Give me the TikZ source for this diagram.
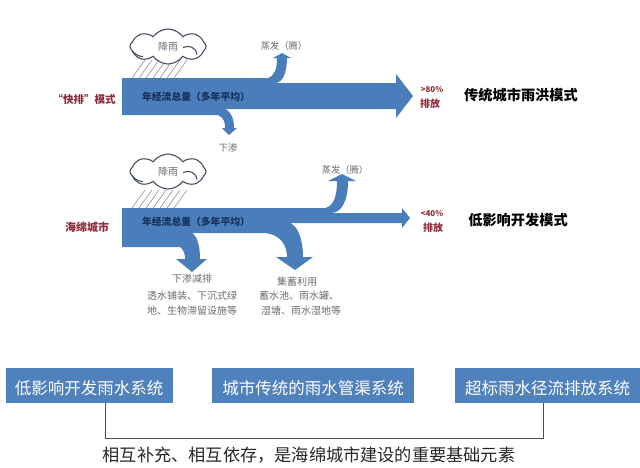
\documentclass[tikz,border=0pt]{standalone}
\usepackage{fontspec}
\setmainfont{Noto Sans CJK SC}
\usetikzlibrary{shapes.symbols}
\definecolor{flowblue}{HTML}{4A7EBB}
\definecolor{boxblue}{HTML}{4F81BD}
\definecolor{darkred}{HTML}{8E2A3A}
\definecolor{cloudgrey}{HTML}{46505C}
\definecolor{softgrey}{HTML}{7F7F7F}
\definecolor{navytxt}{HTML}{16305A}
\tikzset{
  flow/.style={fill=flowblue},
  rainline/.style={draw=softgrey,line width=0.5pt},
  cloudline/.style={draw=cloudgrey,line width=1.1pt},
  txt/.style={inner sep=0pt,font=\fontsize{#1}{#1}\selectfont},
  greytxt/.style={txt=#1,text=softgrey!85!black},
  redtxt/.style={txt=#1,text=darkred,font=\fontsize{#1}{#1}\selectfont\bfseries},
  modetxt/.style={txt=14.2,font=\fontsize{14.2}{14.2}\selectfont\bfseries},
  totaltxt/.style={txt=9.8,text=navytxt,font=\fontsize{9.8}{9.8}\selectfont\bfseries},
  raincloud/.style={cloud,cloudline,fill=white,cloud puffs=8,cloud puff arc=110,aspect=2.2,
    inner sep=0pt,minimum width=76pt,minimum height=35pt,greytxt=10},
  sysbox/.style={fill=boxblue,text=white,inner sep=0pt,minimum height=35pt,
    text height=20pt,text depth=2pt,font=\fontsize{16.5}{16.5}\selectfont}
}
\begin{document}
\begin{tikzpicture}[x=1pt,y=-1pt]
\useasboundingbox (0,0) rectangle (640,467);
% rain above both bars
\foreach \y in {78,208}
  \foreach \i in {0,...,6}
    \draw[rainline] (132+\i*7,\y) -- (145+\i*7,\y-18);
% upper flow
\fill[flow] (122,78) -- (268,78) .. controls (274,76) and (277,70) .. (277,58)
  -- (273,58) -- (282,53) -- (291,58) -- (287,58)
  .. controls (287,72) and (283,83) .. (275,83)
  -- (396,83) -- (396,74) -- (413,96) -- (396,118) -- (396,109) -- (225,109)
  .. controls (232,112) and (234,120) .. (234,128)
  -- (237,128) -- (229,135) -- (222,128) -- (225,128)
  .. controls (225,122) and (224,118) .. (218,115) -- (122,115) -- cycle;
% lower flow
\fill[flow] (122,208) -- (325,208) .. controls (333,206) and (337,198) .. (337,181)
  -- (328,181) -- (342,174) -- (356,181) -- (348,181)
  .. controls (348,200) and (342,213) .. (331,213)
  -- (402,213) -- (402,208) -- (410,218) -- (402,228) -- (402,223) -- (290,223)
  .. controls (298,226) and (303,240) .. (303,257)
  -- (313,257) -- (295,270) -- (276,257) -- (287,257)
  .. controls (287,245) and (280,233) .. (262,233) -- (192,233)
  .. controls (197,236) and (200,245) .. (200,259)
  -- (207,259) -- (192,272) -- (176,259) -- (185,259)
  .. controls (185,254) and (184,250) .. (180,247) -- (122,247) -- cycle;
% clouds
\node[raincloud] (cloudA) at (168,46.5) {降雨};
\node[raincloud] (cloudB) at (168,171.5) {降雨};
\foreach \c in {cloudA,cloudB} {
  \draw[cloudline,shift={(\c.center)}] (15,1) .. controls (21,-2) and (28,1) .. (29,8);
  \draw[cloudline,shift={(\c.center)}] (-36,4) .. controls (-33,8) and (-29,10) .. (-25,10);
}
% labels of the upper row
\node[greytxt=9.3] (evapA) at (284,46) {蒸发（腾）};
\node[totaltxt] (totalA) at (196,97) {年经流总量（多年平均）};
\node[redtxt=10.5] (fastA) at (84,99) {“快排”模式};
\node[greytxt=9.5] (seepA) at (228,148) {下渗};
\node[redtxt=8] (shareA) at (432,90) {>80\%};
\node[redtxt=10] (outA) at (430,104) {排放};
\node[modetxt] (modeA) at (521,95) {传统城市雨洪模式};
% labels of the lower row
\node[redtxt=11] (spongeB) at (87,227) {海绵城市};
\node[totaltxt] (totalB) at (196,222) {年经流总量（多年平均）};
\node[greytxt=9.3] (evapB) at (345,170) {蒸发（腾）};
\node[redtxt=8] (shareB) at (432,214) {<40\%};
\node[redtxt=10] (outB) at (433,228) {排放};
\node[modetxt] (modeB) at (518,220) {低影响开发模式};
\node[greytxt=10] (seepB) at (192,279) {下渗减排};
\node[greytxt=10] (seepC) at (192,296) {透水铺装、下沉式绿};
\node[greytxt=10] (seepD) at (192,311) {地、生物滞留设施等};
\node[greytxt=10] (useB) at (297,282) {集蓄利用};
\node[greytxt=10] (useC) at (299,296) {蓄水池、雨水罐、};
\node[greytxt=10] (useD) at (301,311) {湿塘、雨水湿地等};
% bottom row
\node[sysbox,minimum width=167pt] (sysA) at (89,385.5) {低影响开发雨水系统};
\node[sysbox,minimum width=202pt] (sysB) at (313,385.5) {城市传统的雨水管渠系统};
\node[sysbox,minimum width=185pt] (sysC) at (547.5,385.5) {超标雨水径流排放系统};
\coordinate (brL) at (105,438);
\coordinate (brR) at (543,438);
\draw[cloudgrey,line width=1pt] (sysA.south -| brL) -- (brL) -- (brR) -- (sysC.south -| brR);
\node[txt=17.2,text=black!85] (note) at (309,455) {相互补充、相互依存，是海绵城市建设的重要基础元素};
\end{tikzpicture}
\end{document}
